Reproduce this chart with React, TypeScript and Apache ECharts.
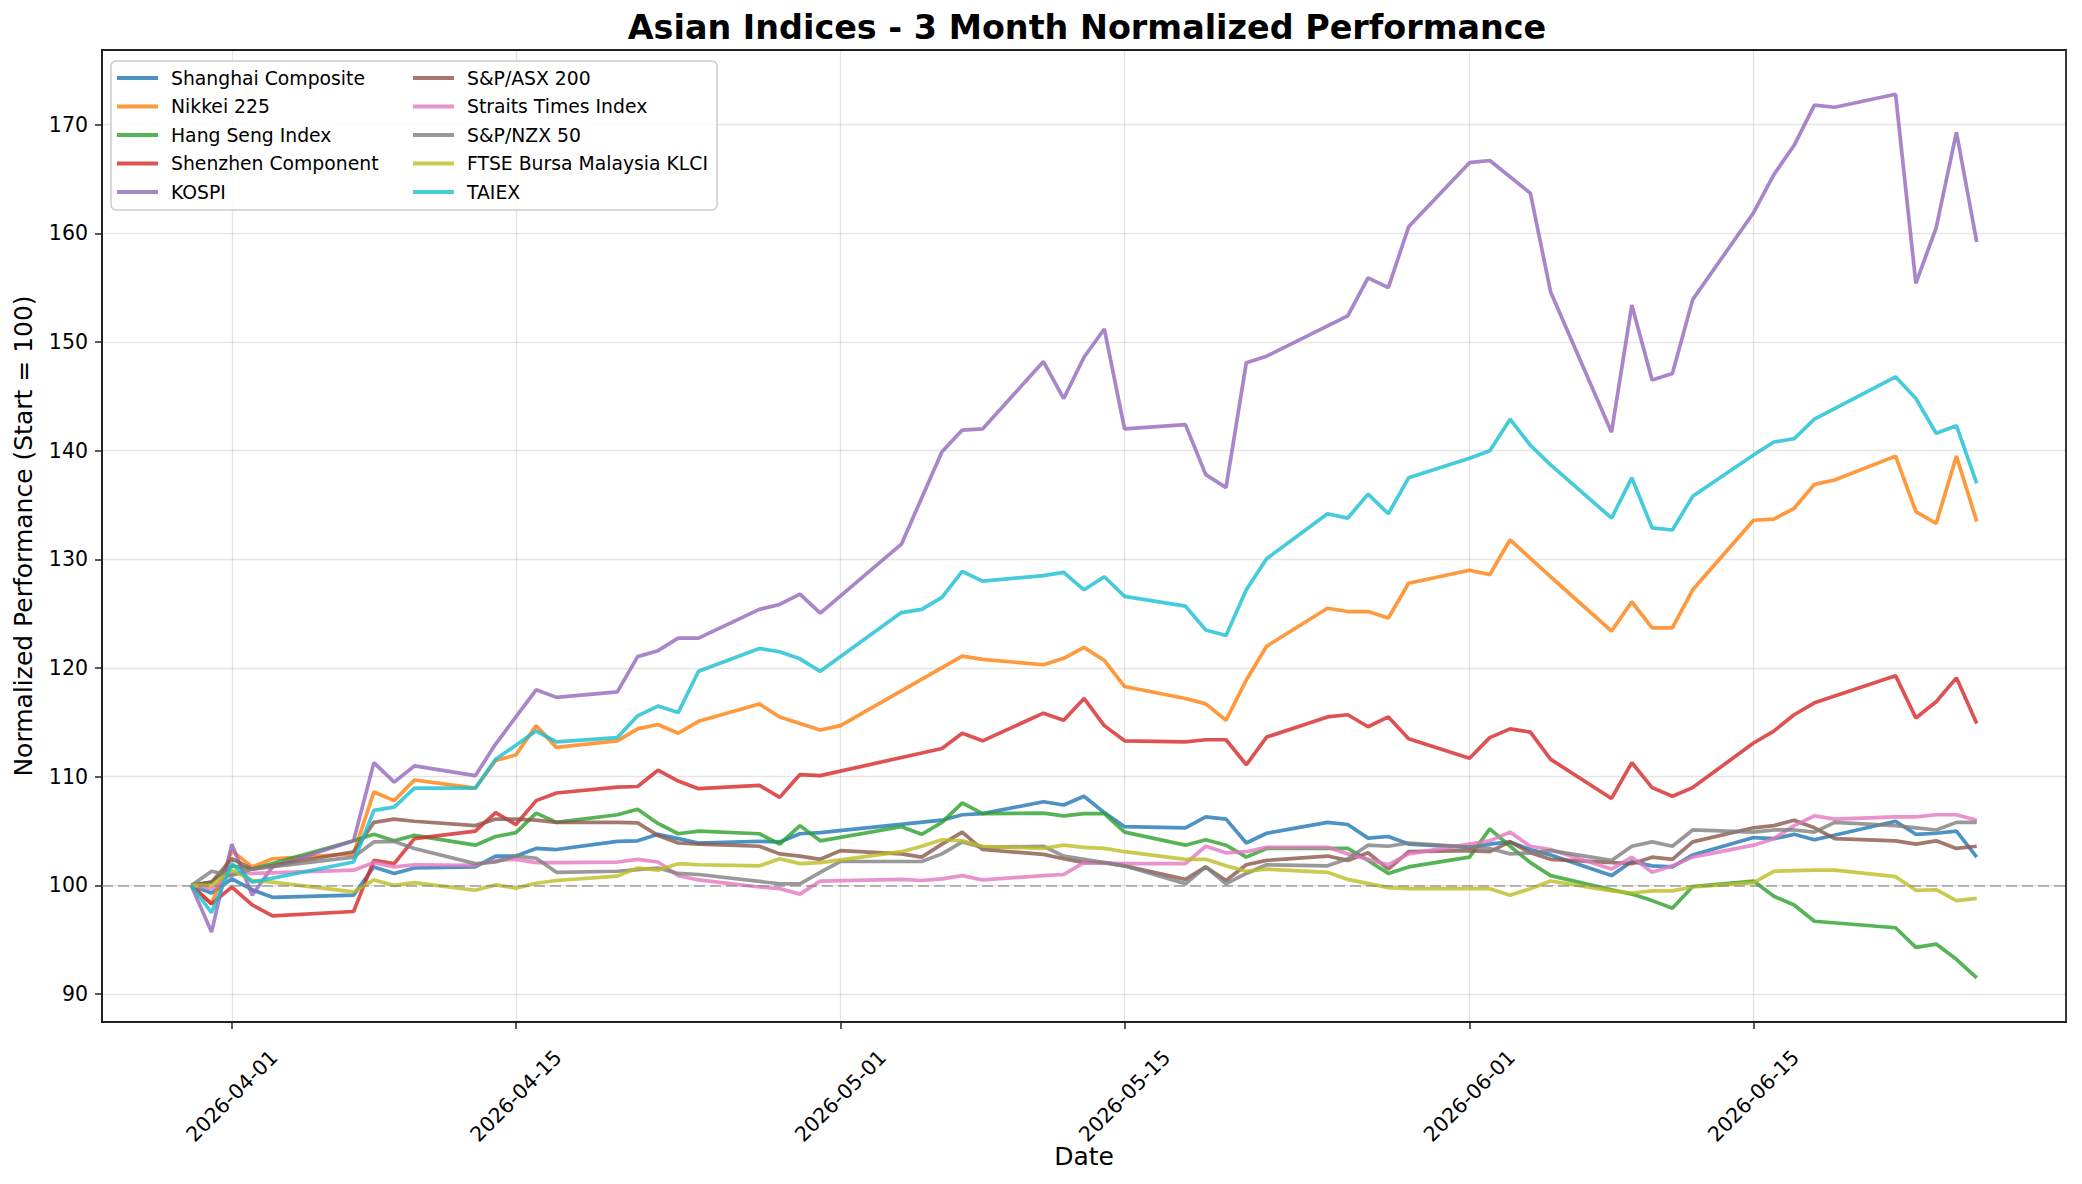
import React, { useEffect, useRef } from "react";
import * as echarts from "echarts";

const dates = [
  "2026-03-30", "2026-03-31", "2026-04-01", "2026-04-02", "2026-04-03",
  "2026-04-07", "2026-04-08", "2026-04-09", "2026-04-10",
  "2026-04-13", "2026-04-14", "2026-04-15", "2026-04-16", "2026-04-17",
  "2026-04-20", "2026-04-21", "2026-04-22", "2026-04-23", "2026-04-24",
  "2026-04-27", "2026-04-28", "2026-04-29", "2026-04-30", "2026-05-01",
  "2026-05-04", "2026-05-05", "2026-05-06", "2026-05-07", "2026-05-08",
  "2026-05-11", "2026-05-12", "2026-05-13", "2026-05-14", "2026-05-15",
  "2026-05-18", "2026-05-19", "2026-05-20", "2026-05-21", "2026-05-22",
  "2026-05-25", "2026-05-26", "2026-05-27", "2026-05-28", "2026-05-29",
  "2026-06-01", "2026-06-02", "2026-06-03", "2026-06-04", "2026-06-05",
  "2026-06-08", "2026-06-09", "2026-06-10", "2026-06-11", "2026-06-12",
  "2026-06-15", "2026-06-16", "2026-06-17", "2026-06-18", "2026-06-19",
  "2026-06-22", "2026-06-23", "2026-06-24", "2026-06-25", "2026-06-26",
];

const shanghai = [
  100, 99.3, 100.6, 99.6, 98.9,
  99.1, 101.7, 101.1, 101.6,
  101.7, 102.7, 102.7, 103.4, 103.3,
  104.05, 104.1, 104.7, 104.3, 103.9,
  104.05, 104.0, 104.75, 104.85, null,
  null, null, 106.0, 106.5, 106.6,
  107.7, 107.4, 108.2, 106.7, 105.4,
  105.3, 106.3, 106.1, 103.9, 104.8,
  105.8, 105.6, 104.35, 104.5, 103.8,
  103.5, 103.8, 104.0, 103.3, 102.8,
  100.9, 102.2, 101.8, 101.7, 102.8,
  104.4, 104.3, 104.7, 104.2, null,
  105.9, 104.7, 104.8, 105.0, 102.6,
];
const nikkei = [
  100, 98.3, 103.2, 101.7, 102.45,
  102.9, 108.6, 107.8, 109.7,
  108.95, 111.5, 112.0, 114.7, 112.7,
  113.3, 114.4, 114.8, 114.0, 115.1,
  116.7, 115.5, null, 114.3, 114.7,
  null, null, null, 121.1, 120.8,
  120.3, 120.9, 121.9, 120.7, 118.3,
  117.2, 116.7, 115.2, 118.9, 122.0,
  125.5, 125.2, 125.2, 124.6, 127.8,
  129.0, 128.6, 131.8, 130.1, 128.4,
  123.4, 126.1, 123.7, 123.7, 127.2,
  133.6, 133.7, 134.7, 136.9, 137.3,
  139.5, 134.4, 133.3, 139.5, 133.5,
];
const hangSeng = [
  100, 100.3, 101.8, 101.5, null,
  104.1, 104.7, 104.1, 104.6,
  103.7, 104.5, 104.85, 106.65, 105.8,
  106.5, 107.0, 105.7, 104.75, 105.0,
  104.75, 103.8, 105.5, 104.1, null,
  105.4, 104.7, 105.8, 107.6, 106.6,
  106.65, 106.4, 106.6, 106.6, 104.9,
  103.7, 104.2, 103.7, 102.6, 103.4,
  null, 103.4, 102.3, 101.1, 101.7,
  102.6, 105.2, 103.6, 102.1, 100.9,
  99.6, 99.2, 98.6, 97.9, 99.9,
  100.4, 99.0, 98.2, 96.7, null,
  96.1, 94.3, 94.6, 93.2, 91.5,
];
const shenzhen = [
  100, 98.3, 99.85, 98.2, 97.2,
  97.6, 102.3, 102.0, 104.3,
  105.0, 106.7, 105.6, 107.8, 108.5,
  109.05, 109.1, 110.6, 109.6, 108.9,
  109.2, 108.1, 110.2, 110.1, null,
  null, null, 112.6, 114.0, 113.3,
  115.85, 115.2, 117.2, 114.7, 113.3,
  113.2, 113.4, 113.4, 111.1, 113.65,
  115.5, 115.7, 114.6, 115.5, 113.5,
  111.7, 113.6, 114.4, 114.1, 111.6,
  108.0, 111.3, 109.0, 108.2, 109.0,
  113.1, 114.2, 115.7, 116.8, null,
  119.3, 115.4, 116.9, 119.1, 114.9,
];
const kospi = [
  100, 95.7, 103.8, 99.1, 101.7,
  104.1, 111.3, 109.5, 111.0,
  110.1, 113.0, 115.5, 118.0, 117.3,
  117.8, 121.05, 121.6, 122.75, 122.75,
  125.4, 125.85, 126.8, 125.05, null,
  131.4, null, 139.9, 141.9, 142.0,
  148.2, 144.8, 148.6, 151.2, 142.0,
  142.4, 137.8, 136.6, 148.1, 148.7,
  null, 152.4, 155.9, 155.0, 160.6,
  166.5, 166.7, null, 163.7, 154.6,
  141.7, 153.4, 146.5, 147.1, 153.9,
  161.9, 165.4, 168.1, 171.8, 171.6,
  172.8, 155.4, 160.5, 169.3, 159.2,
];
const asx = [
  100, 100.3, 102.45, 101.5, null,
  103.1, 105.8, 106.1, 105.9,
  105.5, 106.1, 106.1, 106.0, 105.8,
  105.8, 105.75, 104.6, 103.9, 103.8,
  103.6, 102.9, 102.7, 102.4, 103.2,
  102.9, 102.6, 103.8, 104.9, 103.3,
  102.85, 102.45, 102.1, 102.1, 101.8,
  100.55, 101.7, 100.45, 101.9, 102.3,
  102.7, 102.3, 103.0, 101.5, 103.1,
  103.2, 103.1, 104.0, 103.0, 102.4,
  null, 102.0, 102.6, 102.4, 104.0,
  105.3, 105.5, 106.0, 105.3, 104.3,
  104.1, 103.8, 104.1, 103.4, 103.6,
];
const straits = [
  100, 99.7, 101.1, 101.1, null,
  101.4, 102.1, 101.7, 101.9,
  101.85, 102.3, 102.4, 102.1, 102.1,
  102.15, 102.4, 102.15, 100.9, 100.5,
  99.85, 99.7, 99.2, 100.4, null,
  100.55, 100.45, 100.6, 100.9, 100.5,
  100.9, 101.0, 102.1, 102.05, 102.0,
  102.0, 103.6, 103.0, 103.1, 103.5,
  103.5, 102.9, null, 101.9, 102.9,
  null, 104.1, 104.9, 103.6, 103.3,
  101.5, 102.6, 101.2, 101.8, 102.6,
  103.7, 104.3, 105.5, 106.4, 106.1,
  106.3, 106.3, 106.5, 106.5, 106.0,
];
const nzx = [
  100, 101.3, 100.9, 101.5, null,
  102.6, 104.0, 104.05, 103.4,
  102.0, 102.15, 102.7, 102.5, 101.2,
  101.3, 101.45, 101.6, 101.1, 101.0,
  null, 100.15, 100.15, 101.2, 102.2,
  102.2, 102.2, 102.9, 104.0, 103.5,
  103.6, 102.7, 102.4, 102.1, 101.8,
  100.15, 101.7, 100.15, 101.1, 101.9,
  101.8, 102.45, 103.7, 103.6, 103.9,
  null, 103.4, 102.9, 103.0, 103.2,
  102.3, 103.6, 104.0, 103.6, 105.1,
  104.9, 105.1, 105.1, 104.9, 105.8,
  105.5, 105.3, 105.1, 105.8, 105.8,
];
const klci = [
  100, 100.0, 101.4, 100.45, 100.3,
  99.4, 100.5, 100.0, 100.25,
  99.55, 100.05, 99.75, 100.2, 100.45,
  100.85, 101.6, 101.4, 102.0, 101.9,
  101.8, 102.45, 102.0, 102.1, null,
  103.1, 103.6, 104.2, 104.1, 103.6,
  103.4, 103.7, 103.5, 103.4, 103.1,
  102.4, 102.4, 101.8, 101.3, 101.5,
  101.2, 100.55, null, 99.8, 99.7,
  null, 99.7, 99.1, 99.7, 100.4,
  99.5, 99.3, 99.5, 99.5, 99.85,
  100.25, 101.3, 101.35, 101.4, 101.4,
  100.8, 99.55, 99.6, 98.6, 98.8,
];
const taiex = [
  100, 97.5, 102.0, 100.3, null,
  102.15, 106.9, 107.2, 108.95,
  108.95, 111.6, 112.9, 114.2, 113.2,
  113.6, 115.6, 116.5, 115.9, 119.7,
  121.8, 121.5, 120.85, 119.7, null,
  125.1, 125.4, 126.5, 128.9, 128.0,
  128.5, 128.8, 127.2, 128.4, 126.6,
  125.7, 123.5, 123.0, 127.2, 130.05,
  134.2, 133.8, 136.0, 134.2, 137.5,
  139.3, 140.0, 142.9, 140.5, 138.7,
  133.8, 137.5, 132.9, 132.7, 135.8,
  139.6, 140.8, 141.1, 142.9, null,
  146.8, 144.8, 141.6, 142.3, 137.0,
];

const seriesNames = [
  "Shanghai Composite", "Nikkei 225", "Hang Seng Index", "Shenzhen Component", "KOSPI",
  "S&P/ASX 200", "Straits Times Index", "S&P/NZX 50", "FTSE Bursa Malaysia KLCI", "TAIEX",
];
const seriesValues = [shanghai, nikkei, hangSeng, shenzhen, kospi, asx, straits, nzx, klci, taiex];
const seriesColors = [
  "rgba(31,119,180,0.8)", "rgba(255,127,14,0.8)", "rgba(44,160,44,0.8)", "rgba(214,39,40,0.8)",
  "rgba(148,103,189,0.8)", "rgba(140,86,75,0.8)", "rgba(227,119,194,0.8)", "rgba(127,127,127,0.8)",
  "rgba(188,189,34,0.8)", "rgba(23,190,207,0.8)",
];
const xTickDates = ["2026-04-01", "2026-04-15", "2026-05-01", "2026-05-15", "2026-06-01", "2026-06-15"];
const yTicks = [90, 100, 110, 120, 130, 140, 150, 160, 170];

const FONT = "DejaVu Sans";

function toTime(s: string): number {
  const [y, m, d] = s.split("-").map(Number);
  return new Date(y, m - 1, d).getTime();
}
function fmt(t: number): string {
  const d = new Date(t);
  const p = (n: number) => (n < 10 ? "0" + n : "" + n);
  return d.getFullYear() + "-" + p(d.getMonth() + 1) + "-" + p(d.getDate());
}

export default function App() {
  const ref = useRef<HTMLDivElement>(null);
  useEffect(() => {
    if (!ref.current) return;
    const chart = echarts.init(ref.current, null, { renderer: "svg" });
    const t0 = toTime(dates[0]);
    const t1 = toTime(dates[dates.length - 1]);
    const pad = (t1 - t0) * 0.05;
    const xTicks = xTickDates.map(toTime);

    const series: any[] = seriesNames.map((name, k) => ({
      name,
      type: "line",
      showSymbol: false,
      connectNulls: true,
      color: seriesColors[k],
      lineStyle: { width: 3.7, color: seriesColors[k] },
      emphasis: { disabled: true },
      data: dates.map((d, i) => [toTime(d), seriesValues[k][i] == null ? "-" : seriesValues[k][i]]),
    }));
    series[0].markLine = {
      silent: true,
      symbol: ["none", "none"],
      label: { show: false },
      lineStyle: { color: "rgba(128,128,128,0.55)", type: [11, 5], width: 2 },
      data: [{ yAxis: 100 }],
    };

    const legendCommon = {
      orient: "vertical",
      icon: "rect",
      itemWidth: 41,
      itemHeight: 4,
      itemGap: 8.5,
      padding: 0,
      selectedMode: false,
      z: 10,
      textStyle: { fontFamily: FONT, fontSize: 18.8, color: "#000", lineHeight: 20, padding: [0, 0, 0, 8] },
    };

    chart.setOption({
      animation: false,
      backgroundColor: "#fff",
      title: {
        text: "Asian Indices - 3 Month Normalized Performance",
        left: 1082,
        top: 6,
        textAlign: "center",
        textStyle: { fontFamily: FONT, fontSize: 33.4, fontWeight: "bold", color: "#000" },
      },
      legend: [
        { ...legendCommon, data: seriesNames.slice(0, 5), left: 117, top: 68 },
        { ...legendCommon, data: seriesNames.slice(5), left: 413, top: 68 },
      ],
      graphic: [
        {
          type: "rect",
          z: 9,
          shape: { x: 111, y: 61, width: 606, height: 149, r: 5 },
          style: { fill: "rgba(255,255,255,0.8)", stroke: "#cccccc", lineWidth: 1.5 },
        },
      ],
      grid: {
        left: 102,
        right: 16,
        top: 50,
        bottom: 162,
        show: true,
        borderColor: "#222",
        borderWidth: 1.8,
        backgroundColor: "transparent",
        containLabel: false,
        outerBoundsMode: "none",
      },
      xAxis: {
        type: "value",
        min: t0 - pad,
        max: t1 + pad,
        name: "Date",
        nameLocation: "middle",
        nameGap: 122,
        nameMoveOverlap: false,
        nameTextStyle: { fontFamily: FONT, fontSize: 25, color: "#000" },
        axisLine: { show: true, onZero: false, lineStyle: { color: "#222", width: 1.8 } },
        axisTick: { show: true, length: 7, lineStyle: { color: "#222", width: 1.5 }, customValues: xTicks },
        axisLabel: {
          customValues: xTicks,
          rotate: 45,
          align: "center",
          verticalAlign: "middle",
          margin: 74,
          fontFamily: FONT,
          fontSize: 20.5,
          color: "#000",
          formatter: (v: number) => fmt(v),
        },
        splitLine: { show: true, lineStyle: { color: "rgba(0,0,0,0.1)", width: 1.3 } },
      },
      yAxis: {
        type: "value",
        min: 87.43,
        max: 176.87,
        splitNumber: 9,
        name: "Normalized Performance (Start = 100)",
        nameLocation: "middle",
        nameGap: 66,
        nameMoveOverlap: false,
        nameTextStyle: { fontFamily: FONT, fontSize: 25, color: "#000" },
        axisLine: { show: true, lineStyle: { color: "#222", width: 1.8 } },
        axisTick: { show: true, length: 7, lineStyle: { color: "#222", width: 1.5 }, customValues: yTicks },
        axisLabel: {
          customValues: yTicks,
          margin: 14,
          fontFamily: FONT,
          fontSize: 20.5,
          color: "#000",
          formatter: (v: number) => String(Math.round(v)),
        },
        splitLine: { show: true, lineStyle: { color: "rgba(0,0,0,0.1)", width: 1.3 } },
      },
      series,
    });
    return () => chart.dispose();
  }, []);
  return (
    <div
      ref={ref}
      style={{ position: "absolute", left: 0, top: 0, width: 2082, height: 1184, background: "#fff" }}
    />
  );
}
